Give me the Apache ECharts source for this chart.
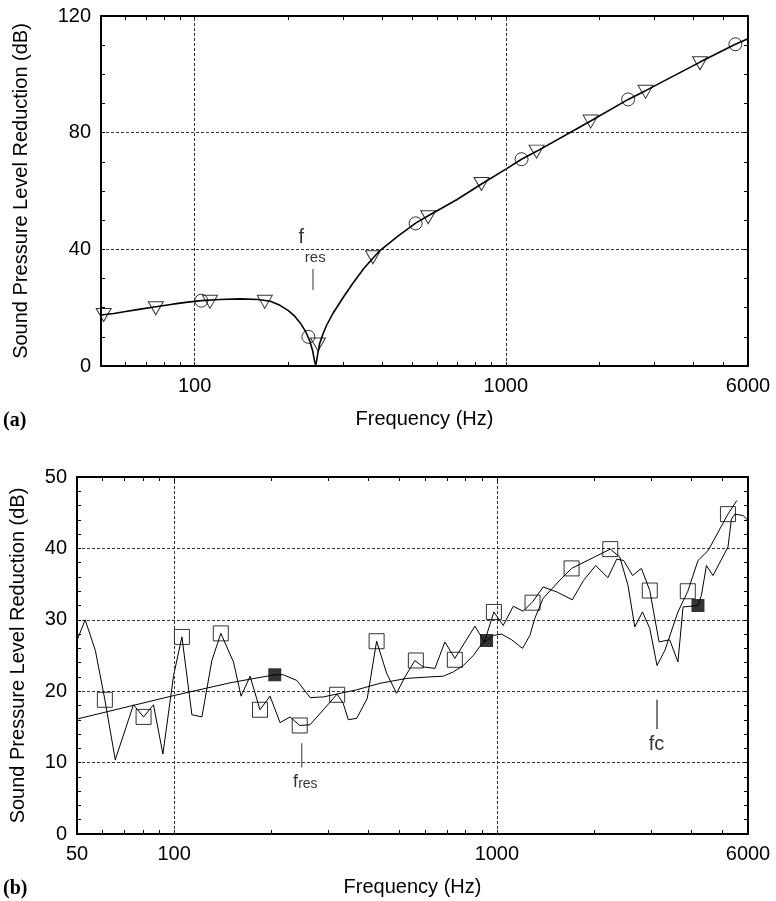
<!DOCTYPE html>
<html><head><meta charset="utf-8">
<script src="https://cdn.jsdelivr.net/npm/echarts@6/dist/echarts.min.js"></script>
<style>html,body{margin:0;padding:0;background:#fff}#c{width:776px;height:901px}</style>
</head><body><div id="c"></div>
<script>
// ===== Panel (a) data: [frequency Hz, dB] =====
const aCurve = [[50,17.5],[55,18.0],[60,18.7],[67,19.5],[75,20.3],[85,21.2],[95,21.9],[105,22.4],[120,22.8],[140,23.0],[160,22.8],[175,22.2],[188,20.8],[200,19.0],[210,17.0],[220,14.3],[228,11.5],[234,8.8],[239,5.5],[243,1.5],[245,0.2],[248,3.5],[252,7.6],[258,10.8],[265,13.8],[278,18.0],[300,23.5],[322,28.3],[350,33.5],[393,39.5],[450,44.5],[513,49.0],[563,51.5],[695,57.0],[835,62.4],[1000,67.5],[1123,70.9],[1255,73.6],[1873,84.0],[2472,91.4],[2812,94.4],[4206,104.2],[5464,110.3],[6000,112.2]];
const aTriangles = [[51,17.5],[75,19.8],[112,22.0],[168,22.0],[249,7.4],[374,37.3],[563,51.0],[835,62.4],[1255,73.5],[1873,83.8],[2812,94.0],[4206,103.8]];
const aCircles = [[105,22.4],[232,10.0],[513,48.9],[1123,70.9],[2472,91.4],[5464,110.3]];
const aResLine = [[240,26.1],[240,33.3]];
const aResF = [220,43.9];
const aResSub = [244,37.2];
const aXLabels = [100,1000,6000];
const aYTicks = {min:0,max:120,step:40};

// ===== Panel (b) data =====
const bMeasured = [[50,27.1],[53,30.0],[57,25.7],[61,18.8],[65.7,10.4],[74.8,18.1],[80.4,16.4],[86.3,18.1],[92.3,11.2],[99.6,22.2],[105.7,27.6],[113.5,16.7],[121.9,16.4],[130.9,24.3],[139.5,28.1],[152.7,24.1],[161.2,19.3],[171.9,22.1],[184.5,17.4],[198.2,19.3],[212.9,15.6],[228.6,16.4],[245,15.2],[263.7,15.3],[290,17.4],[320,19.6],[334,18.3],[346.5,16.0],[367.8,16.2],[396.7,19.0],[424,27.0],[455.5,22.5],[489,19.7],[519,22.0],[557,24.3],[591,23.4],[643,23.2],[690,26.9],[741,24.6],[855,29.1],[915,26.9],[979,31.1],[1046,29.2],[1124,31.9],[1206,31.2],[1290,32.5],[1391,34.6],[1535,33.9],[1713,32.8],[1855,35.5],[2024,37.6],[2208,35.9],[2352,38.5],[2471,38.3],[2634,36.2],[2805,37.2],[2977,34.1],[3181,26.9],[3431,27.2],[3640,24.1],[3775,31.8],[4199,32.0],[4302,33.4],[4460,37.6],[4674,36.2],[5202,40.2],[5330,44.1],[5460,44.8],[5800,44.6],[6000,43.9]];
const bPredicted = [[50,16.1],[100,19.4],[150,21.2],[205,22.3],[218,22.3],[240,21.5],[264,19.1],[290,19.2],[327,19.7],[368,20.2],[434,21.1],[526,21.8],[620,22.0],[682,22.1],[733,22.7],[787,23.6],[845,25.0],[897,26.6],[929,27.1],[974,27.8],[1034,28.0],[1111,27.2],[1201,26.0],[1265,27.8],[1311,30.2],[1391,33.0],[1586,35.8],[1704,37.2],[2246,39.9],[2403,38.8],[2549,34.8],[2675,29.0],[2826,31.1],[2977,28.8],[3135,23.6],[3314,25.7],[3640,31.1],[3905,34.0],[4199,38.3],[4514,39.7],[5200,44.8],[5540,46.7]];
const bOpenSquares = [[61,18.8],[80.4,16.4],[105.7,27.6],[139.5,28.1],[184.5,17.4],[245,15.2],[320,19.5],[424,27.0],[561,24.3],[741,24.4],[979,31.1],[1290,32.4],[1704,37.2],[2246,39.9],[2977,34.1],[3905,34.0],[5200,44.8]];
const bFilledSquares = [[205,22.3],[929,27.1],[4199,32.0]];
const bResLine = [[248.5,9.3],[248.5,12.7]];
const bResText = [255,7.3];
const bFcLine = [[3135,14.7],[3135,18.8]];
const bFcText = [3122,12.5];
const bXLabels = [50,100,1000,6000];
const bYTicks = {min:0,max:50,step:10};

// shared tick positions (Hz)
const xMajor = [100,1000];
const xMinor = [60,70,80,90,200,300,400,500,600,700,800,900,2000,3000,4000,5000];
const xMin = 50, xMax = 6000;

// ===== build =====
const L = f => Math.log10(f);
const P = arr => arr.map(([f,v]) => [L(f), v]);
const FONT = '"Liberation Sans", Arial, sans-serif';
const BLACK = '#000';
const dashStyle = {color:'#333', width:1, type:[3,2]};
const gridLine = {show:true, showMinLine:false, showMaxLine:false, lineStyle:dashStyle};
const fmtX = v => String(Math.round(Math.pow(10, v)));

function xAxes(g, labels) {
  const base = {type:'value', gridIndex:g, min:L(xMin), max:L(xMax)};
  return [
    Object.assign({}, base, {
      position:'bottom',
      axisLine:{show:true, onZero:false, lineStyle:{color:BLACK, width:2}},
      axisTick:{show:true, inside:true, length:4, customValues:xMajor.map(L), lineStyle:{color:BLACK}},
      axisLabel:{show:true, customValues:labels.map(L), formatter:fmtX, fontSize:20, color:BLACK, fontFamily:FONT, margin:10},
      splitLine:{show:false},
      name:'Frequency (Hz)', nameLocation:'middle', nameGap:43,
      nameTextStyle:{fontSize:20, color:BLACK, fontFamily:FONT}
    }),
    Object.assign({}, base, {
      position:'bottom',
      axisLine:{show:false},
      axisTick:{show:true, inside:true, length:4, customValues:xMinor.map(L), lineStyle:{color:BLACK}},
      axisLabel:{show:false}, splitLine:{show:false}
    }),
    Object.assign({}, base, {
      position:'top',
      axisLine:{show:true, onZero:false, lineStyle:{color:BLACK, width:2}},
      axisTick:{show:true, inside:true, length:4, customValues:xMinor.concat(xMajor).map(L), lineStyle:{color:BLACK}},
      axisLabel:{show:false}, splitLine:{show:false}
    })
  ];
}
function yAxes(g, t, minorSplit, nameGap) {
  const base = {type:'value', gridIndex:g, min:t.min, max:t.max, interval:t.step};
  return [
    Object.assign({}, base, {
      position:'left',
      axisLine:{show:true, onZero:false, lineStyle:{color:BLACK, width:2}},
      axisTick:{show:true, inside:true, length:4, lineStyle:{color:BLACK}},
      minorTick:{show:true, splitNumber:minorSplit, length:4, lineStyle:{color:BLACK}},
      axisLabel:{fontSize:20, color:BLACK, fontFamily:FONT, margin:10},
      splitLine:gridLine,
      name:'Sound Pressure Level Reduction (dB)', nameLocation:'middle', nameGap:nameGap,
      nameTextStyle:{fontSize:20, color:BLACK, fontFamily:FONT}
    }),
    Object.assign({}, base, {
      position:'right',
      axisLine:{show:true, onZero:false, lineStyle:{color:BLACK, width:2}},
      axisTick:{show:true, inside:true, length:4, lineStyle:{color:BLACK}},
      minorTick:{show:true, splitNumber:minorSplit, length:4, lineStyle:{color:BLACK}},
      axisLabel:{show:false}, splitLine:{show:false}
    })
  ];
}

const openStyle = {color:'rgba(0,0,0,0)', borderColor:BLACK, borderWidth:1};
function lineSeries(xi, yi, data, width, color) {
  return {type:'line', xAxisIndex:xi, yAxisIndex:yi, data:P(data), symbol:'none', smooth:false,
    lineStyle:{color:color||BLACK, width:width}, silent:true, z:3};
}
function textSeries(xi, yi, items) {
  return {type:'scatter', xAxisIndex:xi, yAxisIndex:yi, symbolSize:0, silent:true, z:5,
    data: items.map(it => ({value:[L(it.at[0]), it.at[1]],
      label:{show:true, position:'inside', formatter:it.text, color:BLACK, fontFamily:FONT,
        fontSize:it.fs, rich:it.rich}}))};
}
// vertical grid lines at the major decades, drawn through the x scale
function vGrid(xi, yi) {
  return {type:'line', xAxisIndex:xi, yAxisIndex:yi, data:[], silent:true, z:1,
    markLine:{silent:true, symbol:'none', label:{show:false}, lineStyle:dashStyle,
      emphasis:{disabled:true}, animation:false,
      data: xMajor.map(f => ({xAxis:L(f)}))}};
}

const option = {
  animation:false,
  backgroundColor:'#fff',
  grid:[
    {left:101, top:16, width:647, height:350},
    {left:77, top:477, width:671, height:357}
  ],
  xAxis: xAxes(0, aXLabels).concat(xAxes(1, bXLabels)),
  yAxis: yAxes(0, aYTicks, 4, 70).concat(yAxes(1, bYTicks, 5, 49)),
  graphic:[
    {type:'text', left:3, top:411, style:{text:'(a)', font:'bold 20px "Liberation Serif", serif', fill:BLACK}},
    {type:'text', left:3, top:879, style:{text:'(b)', font:'bold 20px "Liberation Serif", serif', fill:BLACK}}
  ],
  series:[
    // panel (a)
    vGrid(0, 0),
    lineSeries(0, 0, aCurve, 1.6),
    {type:'scatter', xAxisIndex:0, yAxisIndex:0, data:P(aTriangles), symbol:'triangle', symbolRotate:180,
      symbolSize:[15,13], itemStyle:openStyle, silent:true, z:4},
    {type:'scatter', xAxisIndex:0, yAxisIndex:0, data:P(aCircles), symbol:'circle',
      symbolSize:13, itemStyle:openStyle, silent:true, z:4},
    lineSeries(0, 0, aResLine, 1.2, '#555'),
    textSeries(0, 0, [{at:aResF, text:'f', fs:20}, {at:aResSub, text:'res', fs:15}]),
    // panel (b)
    vGrid(3, 2),
    lineSeries(3, 2, bMeasured, 1),
    lineSeries(3, 2, bPredicted, 1),
    {type:'scatter', xAxisIndex:3, yAxisIndex:2, data:P(bOpenSquares), symbol:'rect',
      symbolSize:15, itemStyle:openStyle, silent:true, z:4},
    {type:'scatter', xAxisIndex:3, yAxisIndex:2, data:P(bFilledSquares), symbol:'rect',
      symbolSize:13, itemStyle:{color:BLACK}, silent:true, z:4},
    lineSeries(3, 2, bResLine, 1.2, '#555'),
    lineSeries(3, 2, bFcLine, 1.2, '#222'),
    textSeries(3, 2, [
      {at:bResText, text:'{a|f}{b|res}', fs:18, rich:{a:{fontSize:18, fontFamily:FONT, color:BLACK, verticalAlign:'bottom', lineHeight:18}, b:{fontSize:14, fontFamily:FONT, color:BLACK, verticalAlign:'bottom', lineHeight:18}}},
      {at:bFcText, text:'fc', fs:20}
    ])
  ]
};
echarts.init(document.getElementById('c'), null, {renderer:'canvas'}).setOption(option);
</script>
</body></html>
